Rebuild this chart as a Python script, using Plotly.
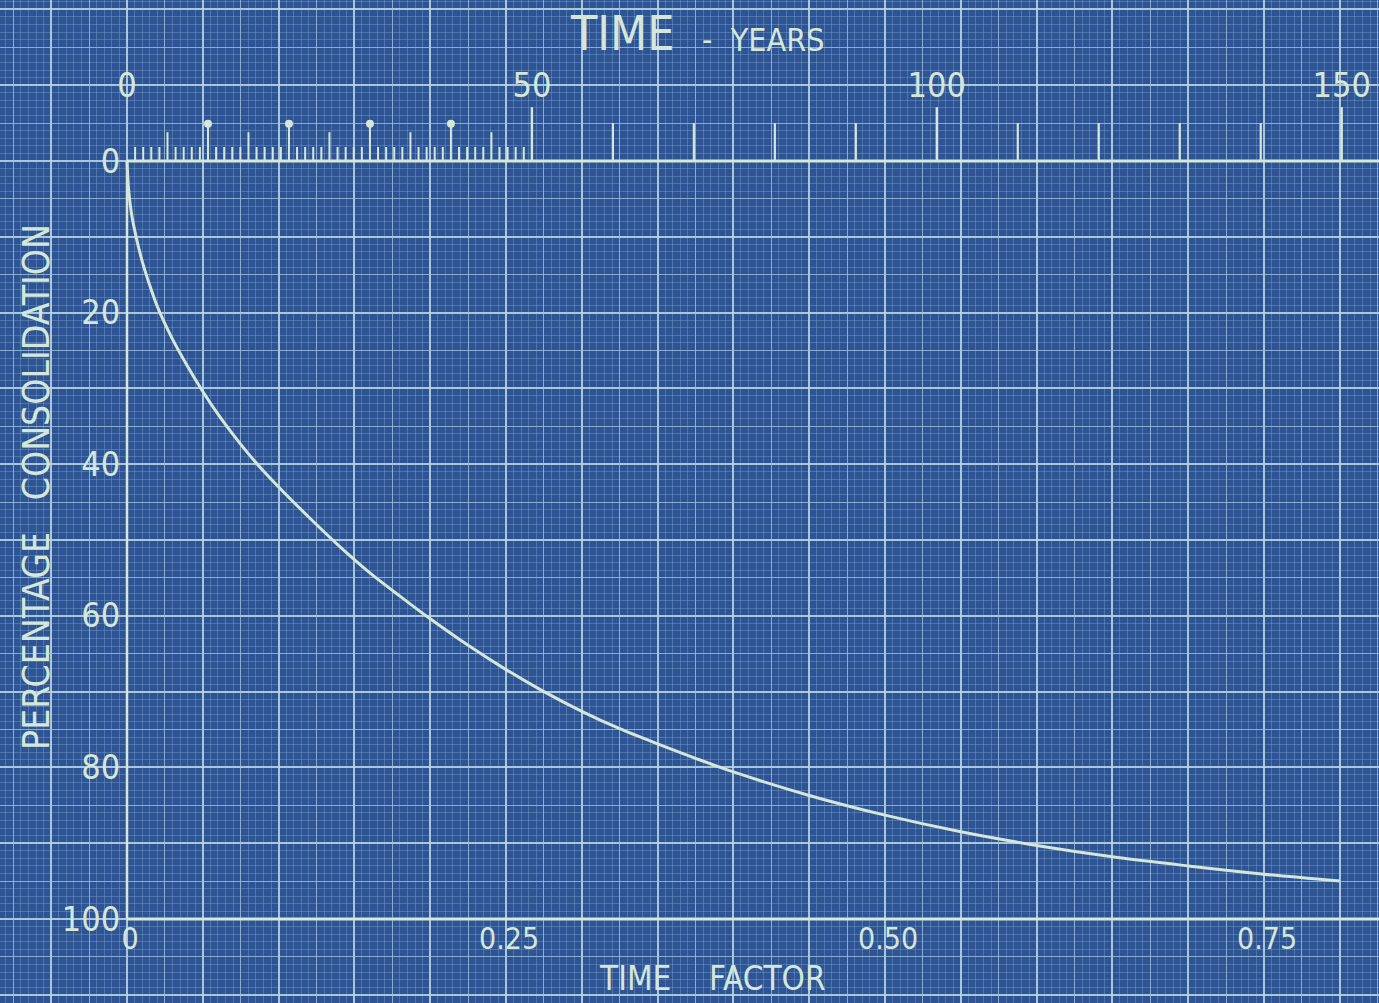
import plotly.graph_objects as go

# Consolidation curve: time factor vs percentage consolidation
time_factor = [0, 0.001, 0.003, 0.006, 0.01, 0.015, 0.02, 0.03, 0.04, 0.05, 0.06, 0.07,
               0.08, 0.09, 0.1, 0.12, 0.14, 0.16, 0.18, 0.2, 0.225, 0.25, 0.275, 0.3,
               0.325, 0.35, 0.375, 0.4, 0.45, 0.5, 0.55, 0.6, 0.65, 0.7, 0.75, 0.8]
consolidation = [0, 3.6, 7.0, 10.0, 13.2, 16.4, 19.2, 23.5, 27.1, 30.4, 33.4, 36.1,
                 38.6, 40.9, 43.0, 47.0, 50.8, 54.3, 57.4, 60.4, 63.9, 67.1, 70.0, 72.6,
                 74.9, 76.9, 78.8, 80.6, 83.7, 86.3, 88.5, 90.3, 91.8, 93.0, 94.1, 95.0]

# Bottom scale (time factor) and left scale (percentage)
tf_ticks = [0, 0.25, 0.50, 0.75]
tf_labels = ["0", "0.25", "0.50", "0.75"]
pct_ticks = [0, 20, 40, 60, 80, 100]
pct_labels = ["0", "20", "40", "60", "80", "100"]

# Top scale (time in years)
year_one = [y for y in range(1, 50) if y % 5 != 0]
year_five = [5, 15, 25, 35, 45]
year_pin = [10, 20, 30, 40]
year_ten = [60, 70, 80, 90, 110, 120, 130, 140]
year_major = [50, 100, 150]
year_labels_at = [0, 50, 100, 150]
year_labels = ["0", "50", "100", "150"]

INK = "#d4e7d8"
BG = "#2e5493"
FONT = "DejaVu Sans Condensed, DejaVu Sans, sans-serif"

X_RANGE = [-127 / 1516, 1252 / 1516]
Y_RANGE = [(1003 - 161) / 7.58, -161 / 7.58]
YEAR_RANGE = [-127 / 8.098, 1252 / 8.098]


def tick_segments(xs, top):
    px, py = [], []
    for x in xs:
        px += [x, x, None]
        py += [0, top, None]
    return px, py


fig = go.Figure()

# curve
fig.add_trace(go.Scatter(
    x=time_factor, y=consolidation, mode="lines", line_shape="spline",
    line=dict(color=INK, width=3, smoothing=0.8), xaxis="x", yaxis="y", hoverinfo="skip"))

# year ruler ticks
for xs, top, w in [(year_one, -1.85, 2), (year_five, -3.8, 2), (year_pin, -4.9, 2),
                   (year_ten, -5.0, 2.2), (year_major, -7.1, 2.4)]:
    px, py = tick_segments(xs, top)
    fig.add_trace(go.Scatter(x=px, y=py, mode="lines", line=dict(color=INK, width=w),
                             xaxis="x3", yaxis="y", hoverinfo="skip"))
fig.add_trace(go.Scatter(x=year_pin, y=[-4.9] * len(year_pin), mode="markers",
                         marker=dict(color=INK, size=8), xaxis="x3", yaxis="y",
                         hoverinfo="skip"))
fig.add_trace(go.Scatter(x=year_labels_at, y=[-9.6] * len(year_labels_at), mode="text",
                         text=year_labels, textfont=dict(color=INK, size=34, family=FONT),
                         xaxis="x3", yaxis="y", hoverinfo="skip"))

# percentage labels
fig.add_trace(go.Scatter(x=[-0.0045] * len(pct_ticks), y=[p + 0.4 for p in pct_ticks],
                         mode="text", text=pct_labels, textposition="middle left",
                         textfont=dict(color=INK, size=34, family=FONT),
                         xaxis="x", yaxis="y", hoverinfo="skip"))
# time factor labels
fig.add_trace(go.Scatter(x=[t + 0.002 for t in tf_ticks], y=[103.0] * len(tf_ticks),
                         mode="text", text=tf_labels,
                         textfont=dict(color=INK, size=30, family=FONT),
                         xaxis="x", yaxis="y", hoverinfo="skip"))

# axis lines
fig.add_shape(type="line", xref="x", yref="y", x0=0, x1=X_RANGE[1], y0=0, y1=0,
              line=dict(color=INK, width=3))
fig.add_shape(type="line", xref="x", yref="y", x0=0, x1=X_RANGE[1], y0=100, y1=100,
              line=dict(color=INK, width=3))
fig.add_shape(type="line", xref="x", yref="y", x0=0, x1=0, y0=0, y1=100,
              line=dict(color=INK, width=2.5))

nb = "\u00a0"
# axis titles
fig.add_annotation(xref="x3", yref="y", x=61.2, y=-16.9, showarrow=False,
                   text="TIME", font=dict(color=INK, size=48, family=FONT))
fig.add_annotation(xref="x3", yref="y", x=78.5, y=-16.0, showarrow=False,
                   text="-" + nb * 2 + "YEARS", font=dict(color=INK, size=32, family=FONT))
fig.add_annotation(xref="x", yref="y", x=0.386, y=107.8, showarrow=False,
                   text="TIME" + nb * 4 + "FACTOR",
                   font=dict(color=INK, size=33, family=FONT))
fig.add_annotation(xref="x", yref="y", x=-0.0594, y=43.0, showarrow=False, textangle=-90,
                   text="PERCENTAGE" + nb * 3 + "CONSOLIDATION",
                   font=dict(color=INK, size=37, family=FONT))

fine = "rgba(125,162,212,0.42)"
medium = "rgba(160,195,225,0.7)"
major = "rgba(185,215,228,0.88)"

fig.update_layout(
    width=1379, height=1003,
    margin=dict(l=0, r=0, t=0, b=0),
    paper_bgcolor=BG, plot_bgcolor=BG,
    showlegend=False,
    xaxis=dict(range=X_RANGE, tick0=0, dtick=0.05, showgrid=True, gridcolor=major,
               gridwidth=1.8, zeroline=False, showticklabels=False, ticks="",
               minor=dict(tick0=0, dtick=0.005, showgrid=True, gridcolor=fine, gridwidth=1),
               fixedrange=True),
    yaxis=dict(range=Y_RANGE, tick0=0, dtick=10, showgrid=True, gridcolor=major,
               gridwidth=1.8, zeroline=False, showticklabels=False, ticks="",
               minor=dict(tick0=0, dtick=1, showgrid=True, gridcolor=fine, gridwidth=1),
               fixedrange=True),
    xaxis2=dict(range=X_RANGE, overlaying="x", tick0=0.025, dtick=0.05, showgrid=True,
                gridcolor=medium, gridwidth=1.3, zeroline=False, showticklabels=False,
                ticks="", fixedrange=True),
    yaxis2=dict(range=Y_RANGE, overlaying="y", tick0=5, dtick=10, showgrid=True,
                gridcolor=medium, gridwidth=1.3, zeroline=False, showticklabels=False,
                ticks="", fixedrange=True),
    xaxis3=dict(range=YEAR_RANGE, overlaying="x", showgrid=False, zeroline=False,
                showticklabels=False, ticks="", fixedrange=True, visible=False),
)

# empty trace so the medium grid subplot is drawn
fig.add_trace(go.Scatter(x=[None], y=[None], xaxis="x2", yaxis="y2", hoverinfo="skip"))

fig.write_html("out.html")
